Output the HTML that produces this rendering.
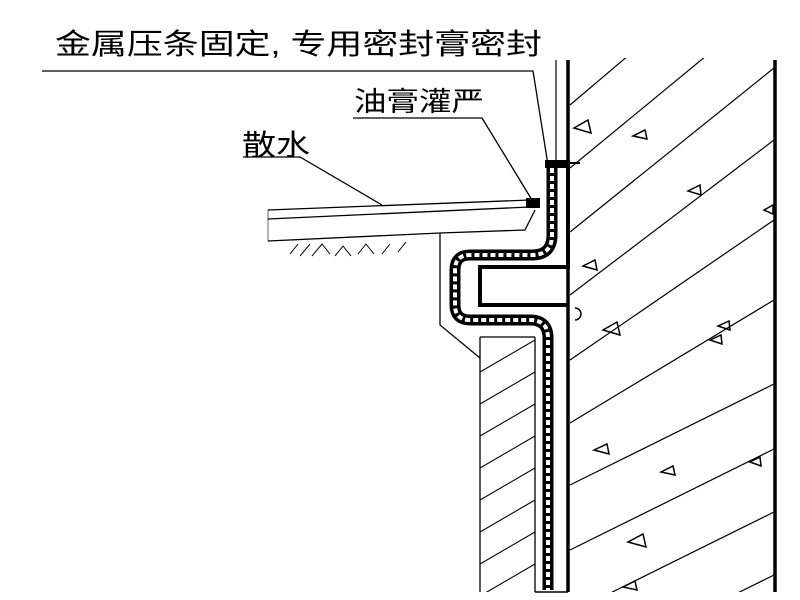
<!DOCTYPE html>
<html><head><meta charset="utf-8"><style>
html,body{margin:0;padding:0;background:#fff;width:800px;height:600px;overflow:hidden}
svg{display:block;position:absolute;left:0;top:0}
text{font-family:"Liberation Sans","Noto Sans CJK SC",sans-serif;fill:#000}
</style></head><body>
<svg width="800" height="600" viewBox="0 0 800 600" xmlns="http://www.w3.org/2000/svg">
<defs>
<clipPath id="cr"><rect x="569" y="58" width="205" height="534"/></clipPath>
<clipPath id="cb"><rect x="480" y="337" width="55" height="255"/></clipPath>
</defs>
<rect width="800" height="600" fill="#fff"/>
<text x="55" y="54" font-size="29" textLength="487" lengthAdjust="spacingAndGlyphs">金属压条固定, 专用密封膏密封</text>
<text x="354" y="111" font-size="27" textLength="130" lengthAdjust="spacingAndGlyphs">油膏灌严</text>
<text x="242" y="155" font-size="29" textLength="68" lengthAdjust="spacingAndGlyphs">散水</text>
<g stroke="#000" fill="none" stroke-width="1.3">
<polyline points="42,71 533,71 548,165"/>
<polyline points="353,118 482,118 532,200"/>
<polyline points="243,157 300,157 382,205"/>
</g>
<g stroke="#000" fill="none">
<line x1="568" y1="60" x2="568" y2="592" stroke-width="3.5"/>
<line x1="775" y1="60" x2="775" y2="592" stroke-width="3.5"/>
<line x1="556" y1="60" x2="556" y2="160" stroke-width="1.2"/>
</g>
<g stroke="#000" stroke-width="1.2" clip-path="url(#cr)">
<line x1="570" y1="105" x2="774" y2="-68"/>
<line x1="570" y1="168" x2="774" y2="0"/>
<line x1="570" y1="232" x2="774" y2="68"/>
<line x1="570" y1="295" x2="774" y2="140"/>
<line x1="570" y1="360" x2="774" y2="220"/>
<line x1="570" y1="423" x2="774" y2="300"/>
<line x1="570" y1="485" x2="774" y2="384"/>
<line x1="570" y1="550" x2="774" y2="449"/>
<line x1="570" y1="613" x2="774" y2="512"/>
<line x1="570" y1="676" x2="774" y2="575"/>
</g>
<g stroke="#000" fill="none" stroke-width="1.5">
<path d="M574,128 l14,-8 l3,13 z"/><path d="M633,136 l12,-6 l2,9 z"/><path d="M688,191 l12,-6 l1,10 z"/>
<path d="M583,266 l12,-6 l2,10 z"/><path d="M764,210 l9,-5 l0,9 z"/><path d="M603,330 l14,-8 l3,13 z"/>
<path d="M718,326 l11,-5 l1,9 z"/><path d="M710,340 l11,-5 l1,9 z"/><path d="M594,450 l13,-6 l2,10 z"/>
<path d="M661,472 l12,-6 l2,9 z"/><path d="M750,462 l10,-5 l1,9 z"/><path d="M628,542 l15,-8 l3,13 z"/>
<path d="M623,587 l12,-6 l2,9 z"/>
</g>
<g stroke="#000" fill="none" stroke-width="1.3">
<line x1="268" y1="210" x2="530" y2="200"/>
<line x1="268" y1="219" x2="530" y2="207"/>
<line x1="268" y1="241" x2="440" y2="233"/>
<polyline points="440,233 525,230 535,210"/>
<line x1="268" y1="210" x2="268" y2="241" stroke-width="0.6"/>
</g>
<rect x="526" y="198" width="14" height="10" fill="#000"/>
<g stroke="#000" stroke-width="1" fill="none">
<path d="M290,254 l8,-10 M300,256 l10,-12 M312,256 l10,-12 l8,10 M335,256 l8,-10 l8,10 M358,254 l8,-10 l8,10 M382,254 l8,-10 M398,252 l8,-10"/>
</g>
<g stroke="#000" fill="none" stroke-width="1.3">
<polyline points="440,233 440,325 480,358"/>
<line x1="480" y1="337" x2="480" y2="592"/>
<line x1="535" y1="337" x2="535" y2="592"/>
<line x1="480" y1="337" x2="535" y2="337"/>
</g>
<path d="M568,160 L568,267 L480,267 L480,305 L568,305" stroke="#000" stroke-width="4" fill="none"/>
<path d="M548,160 L548,240" stroke="#000" stroke-width="1.2"/>
<g fill="none" stroke="#000">
<path d="M552,168 L552,235 Q552,255 532,255 L470,255 Q455,255 455,270 L455,305 Q455,320 470,320 L530,320 Q548,320 548,338 L548,590" stroke-width="11"/>
<path d="M552,168 L552,235 Q552,255 532,255 L470,255 Q455,255 455,270 L455,305 Q455,320 470,320 L530,320 Q548,320 548,338 L548,590" stroke="#fff" stroke-width="4" stroke-dasharray="5 3"/>
</g>
<rect x="545" y="160" width="25" height="8" fill="#000"/>
<line x1="568" y1="163" x2="580" y2="163" stroke="#000" stroke-width="2"/>
<g stroke="#000" stroke-width="1.1" clip-path="url(#cb)">
<line x1="480" y1="372" x2="535" y2="340"/>
<line x1="480" y1="404" x2="535" y2="372"/>
<line x1="480" y1="436" x2="535" y2="404"/>
<line x1="480" y1="468" x2="535" y2="436"/>
<line x1="480" y1="500" x2="535" y2="468"/>
<line x1="480" y1="532" x2="535" y2="500"/>
<line x1="480" y1="564" x2="535" y2="532"/>
<line x1="480" y1="596" x2="535" y2="564"/>
</g>
<line x1="535" y1="592" x2="568" y2="592" stroke="#000" stroke-width="1.5"/>
<path d="M575,308 a5,5 0 0 1 0,12" stroke="#000" fill="none" stroke-width="1.5"/>
</svg>
</body></html>
